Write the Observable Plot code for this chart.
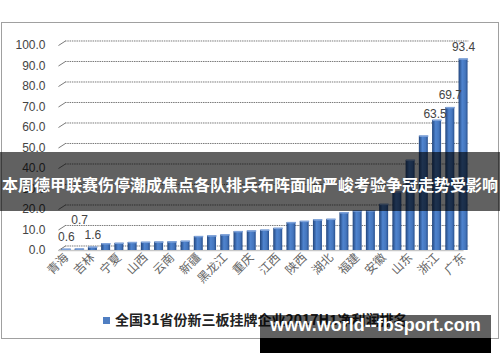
<!DOCTYPE html>
<html><head><meta charset="utf-8">
<script src="https://cdn.jsdelivr.net/npm/d3@7"></script>
<script src="https://cdn.jsdelivr.net/npm/@observablehq/plot@0.6"></script>
<style>
body{margin:0;background:#fff;}
#wrap{position:relative;width:500px;height:362px;overflow:hidden;background:#fff;}
#frame{position:absolute;left:1px;top:22px;width:496px;height:315px;border:1px solid #a0a0a0;}
#chart{position:absolute;left:0;top:0;}
#legend{position:absolute;left:103px;top:309px;height:20px;font:bold 14px "Noto Sans CJK SC",sans-serif;color:#222;white-space:nowrap;line-height:20px;}
#legend .sw{display:inline-block;width:7px;height:7px;background:#4f7ec2;margin-right:5px;vertical-align:1px;}
#banner{position:absolute;left:0;top:152px;width:500px;height:59px;background:rgba(0,0,0,0.62);color:#fff;font:bold 16px "Noto Sans CJK SC",sans-serif;text-align:center;line-height:59px;white-space:nowrap;padding-top:3px;box-sizing:border-box;}
#wm1{position:absolute;left:260px;top:315px;width:231px;height:38px;background:rgba(0,0,0,0.62);}
#wm2{position:absolute;left:260px;top:338px;width:231px;height:15px;background:#000;}
#wmt{position:absolute;left:260px;top:315px;width:231px;height:38px;line-height:38px;text-align:center;color:#fff;font:bold 18px "Liberation Sans",Arial,sans-serif;}
</style></head>
<body>
<div id="wrap">
  <div id="frame"></div>
  <div id="chart"></div>
  <div id="legend"></div>
  <div id="banner"></div>
  <div id="wm1"></div><div id="wm2"></div><div id="wmt"></div>
</div>
<script>
const provinces = ["青海","西藏","吉林","甘肃","宁夏","海南","山西","内蒙古","云南","贵州","新疆","广西","黑龙江","辽宁","重庆","天津","江西","河北","陕西","河南","湖北","湖南","福建","四川","安徽","上海","山东","江苏","浙江","北京","广东"];
const profits = [0.6,0.7,1.6,3.3,3.5,3.9,4.0,4.1,4.2,4.5,6.8,7.1,7.6,9.2,9.5,9.9,10.8,13.6,14.2,14.9,15.2,18.4,19.3,19.4,22.5,28.6,44.0,55.8,63.5,69.7,93.4];
const labeledIdx = [0,1,2,28,29,30];
const yTicks = [0,10,20,30,40,50,60,70,80,90,100];
const legendText = "全国31省份新三板挂牌企业2017H1净利润排名";
const bannerText = "本周德甲联赛伤停潮成焦点各队排兵布阵面临严峻考验争冠走势受影响";
const watermark = "www.world--fbsport.com";

const data = provinces.map((p,i)=>({i, province:p, value:profits[i]}));
const labeled = data.filter(d=>labeledIdx.includes(d.i));
const depth = 2.2; // back-wall offset in value units
const half = 0.34;

const chart = Plot.plot({
  width:500, height:300,
  marginLeft:54, marginRight:29, marginTop:45, marginBottom:50,
  style:{fontFamily:"'Liberation Sans',Arial,sans-serif", fontSize:"12px", color:"#444", background:"transparent"},
  x:{type:"linear", domain:[-0.9,30.6], axis:null},
  y:{domain:[0,100], axis:null},
  marks:[
    Plot.ruleY(yTicks, {y:d=>d+depth, x1:-0.07, x2:30.4, stroke:"#7a7a7a", strokeWidth:1, strokeDasharray:"1.5,0.8"}),
    Plot.link(yTicks, {x1:-0.6, x2:-0.07, y1:d=>d, y2:d=>d+depth, stroke:"#7a7a7a", strokeWidth:1}),
    Plot.link([0], {x1:-0.6, x2:30.0, y1:0, y2:0, stroke:"#c8c8c8", strokeWidth:1.5}),
    Plot.rectY(data, {x1:d=>d.i-half, x2:d=>d.i+half, y:"value", fill:"url(#barGrad)"}),
    Plot.link(data, {x1:d=>d.i-half, x2:d=>d.i+half, y1:"value", y2:"value", stroke:"#7fa3da", strokeWidth:1.5}),
    Plot.text(labeled.filter(d=>d.i!==1 && d.i!==28), {x:"i", y:"value", text:d=>d.value.toFixed(1), dy:-12, fill:"#444", fontSize:12}),
    Plot.text(labeled.filter(d=>d.i===1), {x:"i", y:"value", text:d=>d.value.toFixed(1), dy:-29, fill:"#444", fontSize:12}),
    Plot.text(labeled.filter(d=>d.i===28), {x:"i", y:"value", text:d=>d.value.toFixed(1), dy:-6, dx:-2, fill:"#444", fontSize:12}),
    Plot.axisY(yTicks, {tickFormat:d3.format(".1f"), tickSize:0, tickPadding:9, fontSize:12, fill:"#444", label:null}),
    Plot.axisX(d3.range(0,31,2), {tickFormat:i=>provinces[i], tickRotate:-45, tickSize:0, tickPadding:5, fontSize:12, fill:"#666", fontFamily:"'Noto Sans CJK SC',sans-serif", label:null})
  ]
});
chart.insertAdjacentHTML("afterbegin", `<defs><linearGradient id="barGrad" x1="0" x2="1" y1="0" y2="0">
<stop offset="0" stop-color="#22457c"/><stop offset="0.4" stop-color="#4f84cf"/><stop offset="0.75" stop-color="#4576bd"/><stop offset="1" stop-color="#28508f"/></linearGradient></defs>`);
document.getElementById("chart").appendChild(chart);
document.getElementById("legend").innerHTML = `<span class="sw"></span>${legendText}`;
document.getElementById("banner").textContent = bannerText;
document.getElementById("wmt").textContent = watermark;
</script>
</body></html>
